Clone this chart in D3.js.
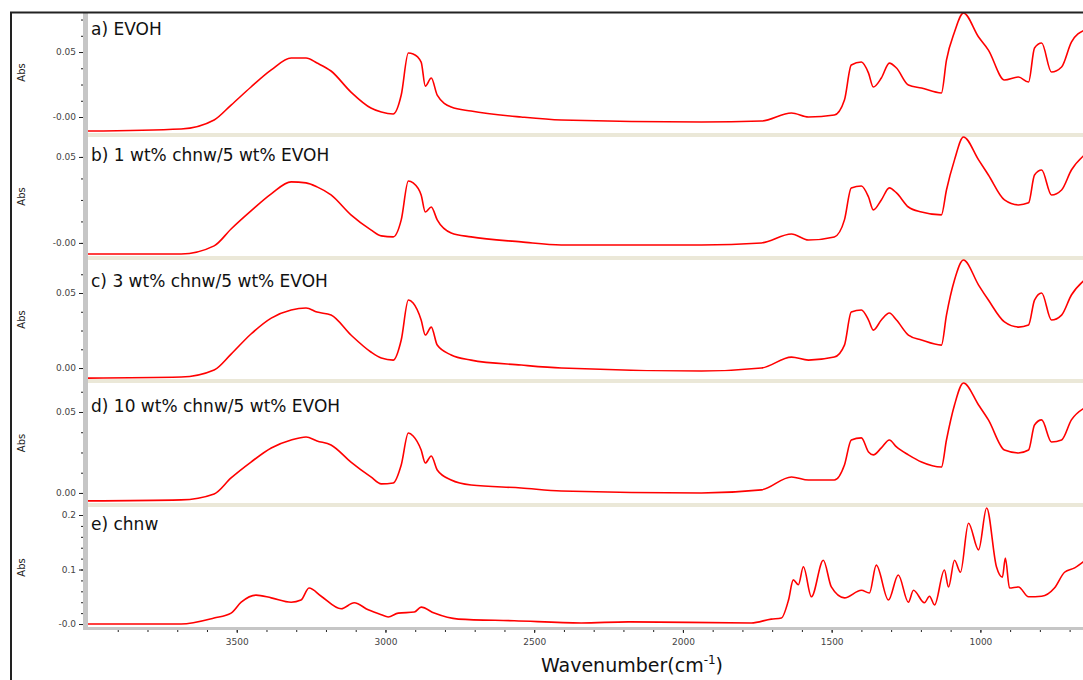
<!DOCTYPE html>
<html>
<head>
<meta charset="utf-8">
<script src="https://cdn.jsdelivr.net/npm/d3@7/dist/d3.min.js"></script>
<style>
body { margin: 0; background: #fff; }
text { font-family: "DejaVu Sans", Verdana, sans-serif; }
</style>
</head>
<body>
<div id="chart"></div>
<script>
// Wavenumber grid (cm-1) shared by the EVOH and blend spectra
var wavenumbers = [4000, 3687, 3576, 3519, 3452, 3384, 3317, 3267, 3230, 3183, 3116, 3049, 3014, 2974, 2947, 2923, 2907, 2880, 2866, 2846, 2826, 2779, 2712, 2544, 2409, 1938, 1736, 1635, 1578, 1491, 1457, 1434, 1400, 1376, 1360, 1333, 1306, 1282, 1242, 1198, 1131, 1114, 1087, 1057, 1006, 973, 919, 872, 838, 818, 794, 761, 727, 694, 650];

// Absorbance
var evoh = [-0.0108, -0.0092, -0.0023, 0.0092, 0.0231, 0.0362, 0.0454, 0.0454, 0.0415, 0.0354, 0.0192, 0.0069, 0.0038, 0.0023, 0.0169, 0.0492, 0.0485, 0.0423, 0.0238, 0.0300, 0.0169, 0.0077, 0.0046, 0.0000, -0.0023, -0.0038, -0.0031, 0.0031, 0.0000, 0.0015, 0.0131, 0.0400, 0.0423, 0.0338, 0.0231, 0.0300, 0.0415, 0.0377, 0.0246, 0.0223, 0.0185, 0.0438, 0.0654, 0.0800, 0.0615, 0.0515, 0.0285, 0.0308, 0.0269, 0.0531, 0.0569, 0.0346, 0.0385, 0.0577, 0.0669];
var chnw1 = [-0.0064, -0.0064, -0.0017, 0.0081, 0.0186, 0.0285, 0.0355, 0.0349, 0.0326, 0.0279, 0.0163, 0.0076, 0.0041, 0.0035, 0.0134, 0.0360, 0.0349, 0.0279, 0.0180, 0.0209, 0.0134, 0.0058, 0.0035, 0.0006, -0.0012, -0.0012, 0.0000, 0.0052, 0.0017, 0.0035, 0.0134, 0.0320, 0.0331, 0.0267, 0.0192, 0.0250, 0.0320, 0.0291, 0.0209, 0.0180, 0.0163, 0.0308, 0.0483, 0.0616, 0.0483, 0.0395, 0.0250, 0.0221, 0.0233, 0.0395, 0.0424, 0.0279, 0.0308, 0.0424, 0.0512];
var chnw3 = [-0.0067, -0.0060, -0.0013, 0.0093, 0.0227, 0.0333, 0.0387, 0.0400, 0.0373, 0.0353, 0.0220, 0.0107, 0.0067, 0.0053, 0.0187, 0.0453, 0.0433, 0.0320, 0.0220, 0.0273, 0.0153, 0.0087, 0.0053, 0.0020, 0.0000, -0.0020, 0.0000, 0.0073, 0.0053, 0.0073, 0.0153, 0.0373, 0.0387, 0.0320, 0.0253, 0.0320, 0.0367, 0.0320, 0.0220, 0.0187, 0.0153, 0.0353, 0.0587, 0.0720, 0.0553, 0.0453, 0.0307, 0.0273, 0.0287, 0.0453, 0.0500, 0.0320, 0.0353, 0.0487, 0.0587];
var chnw10 = [-0.0049, -0.0043, -0.0006, 0.0093, 0.0191, 0.0278, 0.0327, 0.0346, 0.0321, 0.0296, 0.0191, 0.0099, 0.0056, 0.0062, 0.0173, 0.0370, 0.0352, 0.0265, 0.0185, 0.0228, 0.0142, 0.0080, 0.0049, 0.0031, 0.0012, 0.0000, 0.0019, 0.0099, 0.0080, 0.0080, 0.0173, 0.0327, 0.0340, 0.0253, 0.0235, 0.0278, 0.0327, 0.0284, 0.0235, 0.0191, 0.0160, 0.0327, 0.0543, 0.0679, 0.0543, 0.0451, 0.0265, 0.0247, 0.0265, 0.0420, 0.0451, 0.0315, 0.0327, 0.0451, 0.0525];

// Chitin nanowhisker spectrum has its own grid
var chnwWavenumbers = [4000, 3687, 3576, 3519, 3485, 3435, 3384, 3317, 3284, 3257, 3216, 3149, 3105, 3058, 3014, 2991, 2957, 2903, 2880, 2836, 2755, 2567, 2342, 2184, 1770, 1703, 1669, 1645, 1629, 1612, 1595, 1568, 1528, 1501, 1457, 1400, 1373, 1350, 1309, 1276, 1242, 1225, 1188, 1171, 1154, 1121, 1107, 1087, 1067, 1040, 1006, 979, 946, 926, 916, 902, 872, 838, 794, 751, 717, 683, 650];
var chnw = [0.000, 0.000, 0.011, 0.020, 0.040, 0.053, 0.048, 0.040, 0.044, 0.066, 0.051, 0.028, 0.039, 0.026, 0.017, 0.013, 0.020, 0.022, 0.031, 0.020, 0.009, 0.006, 0.002, 0.004, 0.002, 0.009, 0.011, 0.044, 0.081, 0.072, 0.105, 0.050, 0.117, 0.068, 0.048, 0.062, 0.057, 0.108, 0.044, 0.090, 0.040, 0.062, 0.039, 0.051, 0.035, 0.099, 0.068, 0.117, 0.095, 0.185, 0.136, 0.213, 0.105, 0.086, 0.121, 0.066, 0.068, 0.050, 0.051, 0.066, 0.095, 0.103, 0.116];

var panelLabels = ["a) EVOH", "b) 1 wt% chnw/5 wt% EVOH", "c) 3 wt% chnw/5 wt% EVOH", "d) 10 wt% chnw/5 wt% EVOH", "e) chnw"];
var yTickValues = [[0.05, 0], [0.05, 0], [0.05, 0], [0.05, 0], [0.2, 0.1, 0]];
var yTickLabels = [["0.05", "-0.00"], ["0.05", "-0.00"], ["0.05", "0.00"], ["0.05", "0.00"], ["0.2", "0.1", "-0.0"]];
var xTicks = [3500, 3000, 2500, 2000, 1500, 1000];

var width = 1083, height = 680;
var left = 88, right = 1083;

// panel layout: pixel band and visible absorbance range
var panels = [
  { top: 12,  bottom: 133, yMin: -0.0123, yMax: 0.0808, minor: 0.0125, labelDy: 23, x: wavenumbers, y: evoh },
  { top: 137, bottom: 256, yMin: -0.0076, yMax: 0.0616, minor: 0.0125, labelDy: 24, x: wavenumbers, y: chnw1 },
  { top: 260, bottom: 379, yMin: -0.0073, yMax: 0.0720, minor: 0.0125, labelDy: 27, x: wavenumbers, y: chnw3 },
  { top: 383, bottom: 503, yMin: -0.0062, yMax: 0.0679, minor: 0.0125, labelDy: 29, x: wavenumbers, y: chnw10 },
  { top: 507, bottom: 628, yMin: -0.0073, yMax: 0.2147, minor: 0.02,   labelDy: 23, x: chnwWavenumbers, y: chnw }
];

var svg = d3.select("#chart").append("svg")
    .attr("width", width)
    .attr("height", height);

var x = d3.scaleLinear().domain([4000, 655]).range([left, right]);

// separators between panels
panels.slice(0, -1).forEach(function(p, i) {
  svg.append("rect")
      .attr("x", left).attr("y", p.bottom)
      .attr("width", right - left).attr("height", panels[i + 1].top - p.bottom)
      .attr("fill", "#ebe8d8");
});

panels.forEach(function(p, i) {
  var y = d3.scaleLinear().domain([p.yMin, p.yMax]).range([p.bottom, p.top]);

  svg.append("clipPath").attr("id", "clip" + i)
    .append("rect")
      .attr("x", left).attr("y", p.top - 1)
      .attr("width", right - left).attr("height", p.bottom - p.top + 1);

  var line = d3.line()
      .curve(d3.curveMonotoneX)
      .x(function(d) { return x(d[0]); })
      .y(function(d) { return y(d[1]); });

  svg.append("path")
      .datum(d3.zip(p.x, p.y).sort(function(a, b) { return a[0] - b[0]; }))
      .attr("clip-path", "url(#clip" + i + ")")
      .attr("fill", "none")
      .attr("stroke", "#ff0000")
      .attr("stroke-width", 1.6)
      .attr("stroke-linejoin", "round")
      .attr("d", line);

  // minor ticks
  var start = Math.ceil(p.yMin / p.minor) * p.minor;
  var minor = d3.range(start, p.yMax, p.minor);
  svg.append("g")
      .attr("transform", "translate(" + (left - 5) + ",0)")
      .call(d3.axisLeft(y).tickValues(minor).tickSize(2).tickFormat(""))
      .call(function(g) { g.select(".domain").remove(); g.selectAll("line").attr("stroke", "#222"); });

  // labelled ticks
  svg.append("g")
      .attr("transform", "translate(" + (left - 5) + ",0)")
      .call(d3.axisLeft(y).tickValues(yTickValues[i]).tickSize(4).tickPadding(3)
            .tickFormat(function(d, k) { return yTickLabels[i][k]; }))
      .call(function(g) {
        g.select(".domain").remove();
        g.selectAll("line").attr("stroke", "#222");
        g.selectAll("text").attr("font-size", 9).attr("fill", "#444")
            .attr("font-family", "DejaVu Sans, sans-serif");
      });

  svg.append("text")
      .attr("transform", "translate(25," + ((p.top + p.bottom) / 2) + ") rotate(-90)")
      .attr("text-anchor", "middle")
      .attr("font-size", 10)
      .attr("fill", "#222")
      .text("Abs");

  svg.append("text")
      .attr("x", left + 3)
      .attr("y", p.top + p.labelDy)
      .attr("font-size", 17)
      .attr("fill", "#111")
      .text(panelLabels[i]);
});

// left grey axis bar
svg.append("rect")
    .attr("x", left - 5).attr("y", 12)
    .attr("width", 5).attr("height", 618)
    .attr("fill", "#c6c6c6");

// bottom grey axis bar
svg.append("rect")
    .attr("x", left - 5).attr("y", 627)
    .attr("width", right - left + 5).attr("height", 3)
    .attr("fill", "#c6c6c6");

svg.append("g").attr("transform", "translate(0,630)")
    .call(d3.axisBottom(x).tickValues(d3.range(3900, 650, -100)).tickSize(2).tickFormat(""))
    .call(function(g) { g.select(".domain").remove(); g.selectAll("line").attr("stroke", "#222"); });
svg.append("g").attr("transform", "translate(0,630)")
    .call(d3.axisBottom(x).tickValues(xTicks).tickSize(3).tickPadding(6).tickFormat(d3.format("d")))
    .call(function(g) {
      g.select(".domain").remove();
      g.selectAll("line").attr("stroke", "#222");
      g.selectAll("text").attr("font-size", 9).attr("fill", "#444")
          .attr("font-family", "DejaVu Sans, sans-serif");
    });

var title = svg.append("text")
    .attr("x", 632).attr("y", 672)
    .attr("text-anchor", "middle")
    .attr("font-size", 19)
    .attr("fill", "#111");
title.append("tspan").text("Wavenumber(cm");
title.append("tspan").attr("font-size", 12).attr("dy", -8).text("-1");
title.append("tspan").attr("dy", 8).text(")");

// outer frame (left and top edges)
svg.append("path")
    .attr("d", "M11,680V12.5H" + width)
    .attr("fill", "none")
    .attr("stroke", "#222")
    .attr("stroke-width", 2);
</script>
</body>
</html>
